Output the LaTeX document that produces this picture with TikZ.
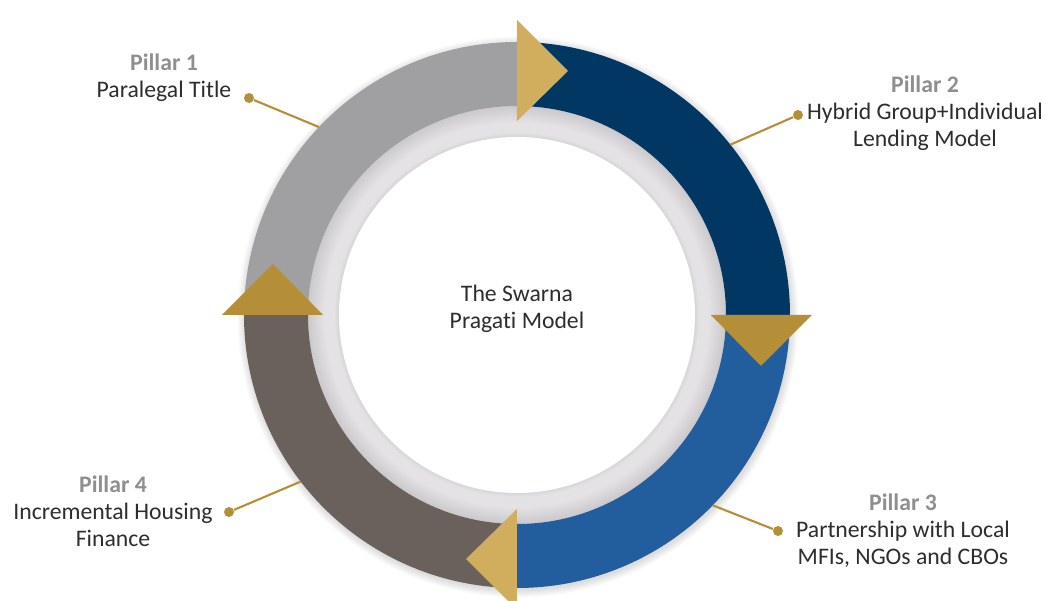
\documentclass[tikz,border=0pt]{standalone}
\usepackage{fontspec}
\setmainfont{Carlito}[Ligatures=NoCommon]
\usepackage{tikz}

\xdefinecolor{pillarone}{RGB}{160, 160, 162}
\xdefinecolor{pillartwo}{RGB}{0, 55, 99}
\xdefinecolor{pillarthree}{RGB}{34, 94, 158}
\xdefinecolor{pillarfour}{RGB}{106, 96, 92}
\xdefinecolor{goldlight}{RGB}{208, 174, 94}
\xdefinecolor{golddark}{RGB}{181, 143, 55}
\xdefinecolor{innerring}{RGB}{228, 226, 229}
\xdefinecolor{labeltext}{RGB}{45, 45, 45}
\xdefinecolor{pillarhead}{RGB}{143, 143, 143}

\tikzset{
    pillarlabel/.style={align=center, text=labeltext, font=\fontsize{13.5}{15.4}\selectfont, inner sep=0pt},
    pinline/.style={golddark, line width=1.2pt},
    pindot/.style={circle, fill=golddark, minimum size=0.2cm, inner sep=0pt}
}
\newcommand{\pillarhead}[1]{\textcolor{pillarhead}{\bfseries Pillar #1}}

\begin{document}
\begin{tikzpicture}[x=0.02cm, y=0.02cm]
    \useasboundingbox (-517,-286) rectangle (529,315);

    % Soft shadow round the outer ring
    \foreach \i in {1,...,7} {
        \fill[black, opacity=0.018] (1,-2) circle[radius=272+1.2*\i];
    }
    % Light gray inner ring with its shadow
    \fill[innerring] (0,0) circle[radius=209];
    \foreach \i in {1,...,8} {
        \fill[black, opacity=0.012, even odd rule] (0,0) circle[radius=209] circle[radius=209-2*\i];
    }
    \foreach \i in {1,...,4} {
        \fill[black, opacity=0.01] (0,0) circle[radius=178+\i];
    }
    \fill[white] (0,0) circle[radius=178];

    % Draw the four pillar segments
    \foreach \a/\c in {90/pillartwo, 0/pillarthree, -90/pillarfour, 180/pillarone} {
        \fill[\c] (\a:273) arc[start angle=\a, end angle=\a-90, radius=273]
            -- (\a-90:209) arc[start angle=\a-90, end angle=\a, radius=209] -- cycle;
    }

    % Draw the arrow heads between the segments
    \foreach \a/\c in {90/goldlight, 0/golddark, -90/goldlight, 180/golddark} {
        \fill[\c, rotate=\a-90] (0,194) -- (0,295) -- (51,244) -- cycle;
    }

    % Centre text
    \node[pillarlabel] (model) at (0,6) {The Swarna\\Pragati Model};

    % Pillar labels with their pins
    \node[pillarlabel] (p1) at (-353,237) {\pillarhead{1}\\Paralegal Title};
    \node[pillarlabel] (p2) at (408,202) {\pillarhead{2}\\Hybrid Group+Individual\\Lending Model};
    \node[pillarlabel] (p3) at (386,-216) {\pillarhead{3}\\Partnership with Local\\MFIs, NGOs and CBOs};
    \node[pillarlabel] (p4) at (-404,-196) {\pillarhead{4}\\Incremental Housing\\Finance};

    \foreach \n/\d/\e in {p1/{-268,217}/136.5, p2/{281,200}/38.6, p3/{261,-216}/-44.2, p4/{-288,-197}/-142.4} {
        \coordinate (\n-end) at (\e:273);
        \node[pindot] (\n-dot) at (\d) {};
        \draw[pinline] (\n-dot) -- (\n-end);
    }
\end{tikzpicture}
\end{document}
